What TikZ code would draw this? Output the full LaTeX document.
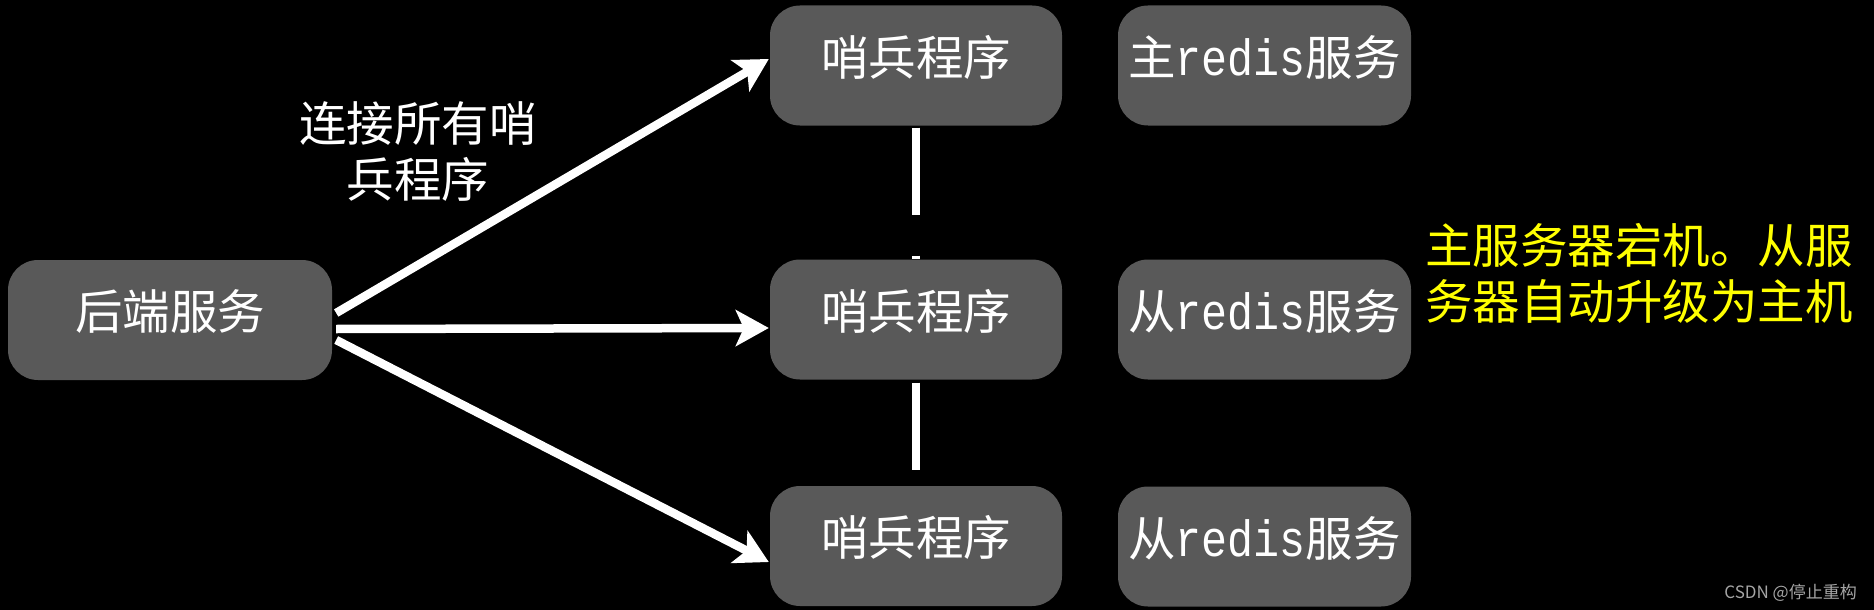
\documentclass[tikz,border=0pt]{standalone}
\usepackage{fontspec}
\setmainfont{Noto Sans CJK SC}
\newfontfamily\redismono[FakeStretch=0.85]{Liberation Mono}
\usetikzlibrary{arrows.meta,calc}
\definecolor{boxgray}{RGB}{89,89,89}
\definecolor{notegold}{RGB}{255,255,0}
\definecolor{markgray}{RGB}{165,165,165}
\newcommand{\redisword}{{\redismono\fontsize{51}{56}\selectfont redis}}
\begin{document}
\begin{tikzpicture}[x=1pt,y=-1pt,
  box/.style={fill=boxgray, rounded corners=30pt, inner sep=0pt, text=white,
    font={\fontsize{47.5}{56}\selectfont}, text height=30pt, text depth=11pt},
  backbox/.style={box, minimum width=324pt, minimum height=120pt},
  sentbox/.style={box, minimum width=292pt, minimum height=120pt},
  redisbox/.style={box, minimum width=293pt, minimum height=120pt},
  link/.style={white, line width=8.5pt, -{Stealth[length=33pt,width=36pt,inset=8pt]}},
  tie/.style={white, line width=8pt, dash pattern=on 87pt off 41pt},
  bigtext/.style={font={\fontsize{47.5}{56}\selectfont}, inner sep=0pt},
]
\fill[black] (0,0) rectangle (1874,610);
\useasboundingbox (0,0) rectangle (1874,610);

\node[backbox] (back) at (170,320) {后端服务};

\node[sentbox] (s1) at (916,65.5) {哨兵程序};
\node[sentbox] (s2) at (916,319.5) {哨兵程序};
\node[sentbox] (s3) at (916,546) {哨兵程序};

\node[redisbox] (r1) at (1264.5,65.5) {主\redisword 服务};
\node[redisbox] (r2) at (1264.5,319.5) {从\redisword 服务};
\node[redisbox] (r3) at (1264.5,546.5) {从\redisword 服务};

\draw[link] ($(back.east)+(4,-7)$) -- ($(s1.west)+(-1,-6.5)$);
\draw[link] ($(back.east)+(4,9)$) -- ($(s2.west)+(-1,8.5)$);
\draw[link] ($(back.east)+(4,20)$) -- ($(s3.west)+(-1,16)$);

\draw[tie] ($(s1.south)+(0,2)$) -- (s2.north);
\draw[tie] ($(s2.south)+(0,3)$) -- (s3.north);

\node[bigtext, text=white, align=center, anchor=base] (lbl) at (418,197) {连接所有哨\\兵程序};

\node[bigtext, text=notegold, align=left, anchor=base west] (note) at (1425,319) {主服务器宕机。从服\\务器自动升级为主机};

\node[font={\fontsize{17}{20}\selectfont}, text=markgray, anchor=base east, inner sep=0pt] (mark) at (1857,598) {CSDN @停止重构};
\end{tikzpicture}
\end{document}
